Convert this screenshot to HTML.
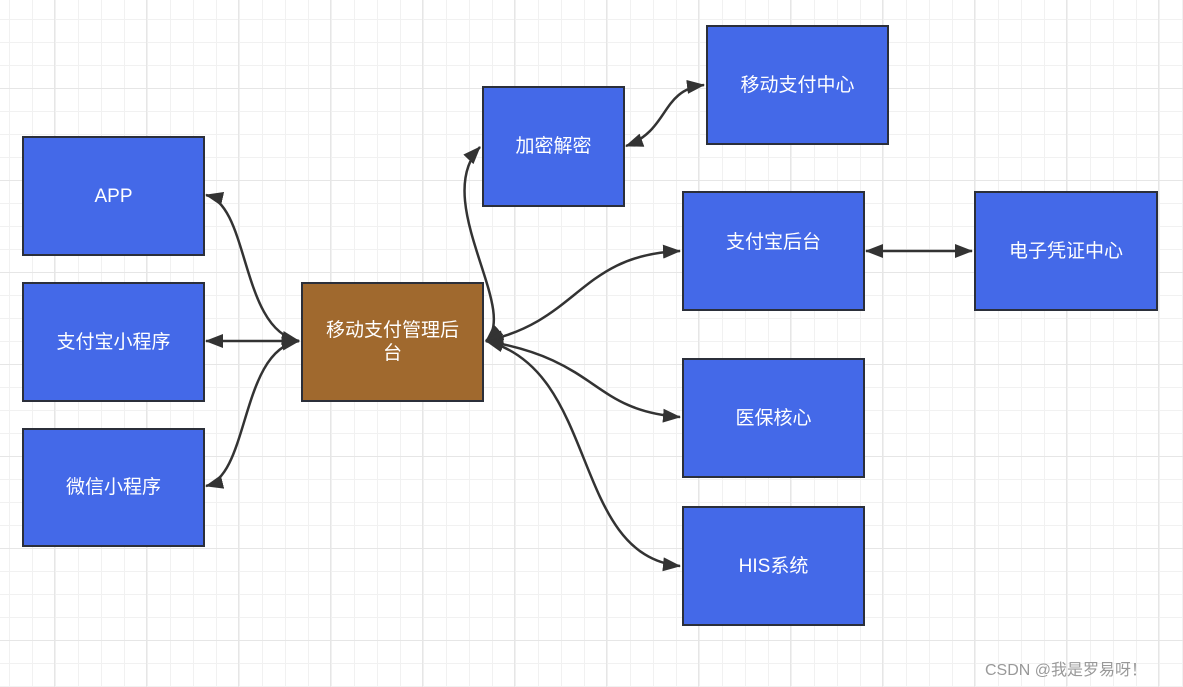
<!DOCTYPE html>
<html><head><meta charset="utf-8"><style>
html,body{margin:0;padding:0;}
body{width:1183px;height:687px;overflow:hidden;position:relative;background:#fff;
background-image:
linear-gradient(#e6e6e6 1px,transparent 1px),
linear-gradient(90deg,#e6e6e6 1px,transparent 1px),
linear-gradient(#f1f1f1 1px,transparent 1px),
linear-gradient(90deg,#f1f1f1 1px,transparent 1px);
background-size:92px 92px,92px 92px,23px 23px,23px 23px;
background-position:0 88px,54px 0,0 19px,9px 0;
font-family:"Liberation Sans","Noto Sans CJK SC",sans-serif;}
.b{position:absolute;box-sizing:border-box;border:2px solid #2b2f3a;background:#4469e8;color:#fff;font-size:19px;display:flex;align-items:center;justify-content:center;text-align:center;line-height:23px;}
svg{position:absolute;left:0;top:0;}
.wm{position:absolute;left:985px;top:656px;color:#999;font-size:16px;}
</style></head><body>
<div class="b" style="left:22px;top:136px;width:183px;height:120px">APP</div>
<div class="b" style="left:22px;top:282px;width:183px;height:120px">支付宝小程序</div>
<div class="b" style="left:22px;top:428px;width:183px;height:119px">微信小程序</div>
<div class="b" style="left:301px;top:282px;width:183px;height:120px;background:#a0692e;padding:0 18px">移动支付管理后台</div>
<div class="b" style="left:482px;top:86px;width:143px;height:121px;padding-bottom:0">加密解密</div>
<div class="b" style="left:706px;top:25px;width:183px;height:120px">移动支付中心</div>
<div class="b" style="left:682px;top:191px;width:183px;height:120px;align-items:flex-start;padding-top:38px">支付宝后台</div>
<div class="b" style="left:974px;top:191px;width:184px;height:120px">电子凭证中心</div>
<div class="b" style="left:682px;top:358px;width:183px;height:120px">医保核心</div>
<div class="b" style="left:682px;top:506px;width:183px;height:120px">HIS系统</div>
<svg width="1183" height="687" viewBox="0 0 1183 687">
<defs><marker id="a" markerWidth="10" markerHeight="10" refX="9" refY="5" orient="auto-start-reverse" markerUnits="userSpaceOnUse" viewBox="0 0 10 10"><path d="M0,0L10,5L0,10z" fill="#333"/></marker>
<marker id="m" markerWidth="18" markerHeight="14" refX="17" refY="7" orient="auto-start-reverse" markerUnits="userSpaceOnUse" viewBox="0 0 18 14"><path d="M0,0L18,7L0,14z" fill="#333"/></marker></defs>
<g fill="none" stroke="#333" stroke-width="2.5">
<path d="M206,195 C250,205 240,330 299,341" marker-start="url(#m)" marker-end="url(#m)"/>
<path d="M206,341 L299,341" marker-start="url(#m)" marker-end="url(#m)"/>
<path d="M206,486 C250,475 240,350 299,341" marker-start="url(#m)" marker-end="url(#m)"/>
<path d="M486,341 C520,310 430,200 480,147" marker-start="url(#m)" marker-end="url(#m)"/>
<path d="M486,341 C580,320 580,255 680,251" marker-start="url(#m)" marker-end="url(#m)"/>
<path d="M486,341 C600,360 590,410 680,417" marker-start="url(#m)" marker-end="url(#m)"/>
<path d="M486,341 C600,370 570,555 680,566" marker-start="url(#m)" marker-end="url(#m)"/>
<path d="M626,146 C670,130 660,90 704,85" marker-start="url(#m)" marker-end="url(#m)"/>
<path d="M866,251 L972,251" marker-start="url(#m)" marker-end="url(#m)"/>
</g></svg>
<div class="wm">CSDN @我是罗易呀！</div>
</body></html>
